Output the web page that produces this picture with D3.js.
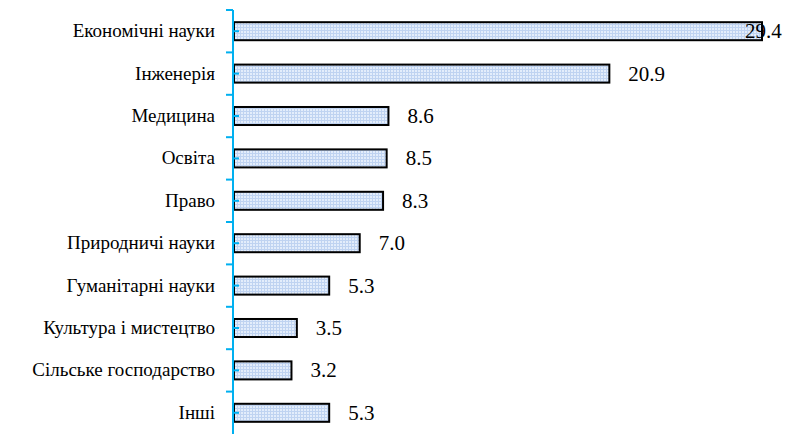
<!DOCTYPE html>
<html>
<head>
<meta charset="utf-8">
<script src="https://cdn.jsdelivr.net/npm/d3@7"></script>
<style>
  @font-face { font-family: "ChartSerif"; src: local("Liberation Serif"), local("LiberationSerif"), local("Liberation Serif Regular"), local("LiberationSerif-Regular"); }
</style>
</head>
<body style="margin:0">
<div id="chart"></div>
<script>
const categories = ["Економічні науки", "Інженерія", "Медицина", "Освіта", "Право",
  "Природничі науки", "Гуманітарні науки", "Культура і мистецтво", "Сільське господарство", "Інші"];
const values = [29.4, 20.9, 8.6, 8.5, 8.3, 7.0, 5.3, 3.5, 3.2, 5.3];
const labels = ["29.4", "20.9", "8.6", "8.5", "8.3", "7.0", "5.3", "3.5", "3.2", "5.3"];

const FONT = "\"Liberation Serif\", \"Times New Roman\", ChartSerif";
const W = 790, H = 434;
const margin = {top: 10, right: 28, bottom: 0, left: 234};
const height = H - margin.top - margin.bottom;

const svg = d3.select("#chart").append("svg")
  .attr("width", W)
  .attr("height", H);

const x = d3.scaleLinear().domain([0, 29.4]).range([margin.left, margin.left + 528]);
const y = d3.scaleBand().domain(categories).range([margin.top, margin.top + height])
  .paddingInner(0.575).paddingOuter(0.2875);
const x0 = x(0);

// category names
svg.selectAll("text.cat")
  .data(categories)
  .join("text")
  .attr("class", "cat")
  .attr("x", x0 - 19)
  .attr("y", d => y(d) + y.bandwidth() / 2 + 6)
  .attr("text-anchor", "end")
  .attr("font-size", 19)
  .style("font-family", FONT)
  .text(d => d);

const defs = svg.append("defs");
const pat = defs.append("pattern")
  .attr("id", "grid")
  .attr("patternUnits", "userSpaceOnUse")
  .attr("width", 3).attr("height", 3);
pat.append("rect").attr("width", 3).attr("height", 3).attr("fill", "#e3edfb");
pat.append("path").attr("d", "M0,0.5H3M0.5,0V3")
  .attr("stroke", "#bfd3f1").attr("stroke-width", 1);

// bars
svg.selectAll("rect.bar")
  .data(values)
  .join("rect")
  .attr("class", "bar")
  .attr("x", x0)
  .attr("y", (d, i) => y(categories[i]))
  .attr("width", d => x(d) - x0)
  .attr("height", y.bandwidth())
  .attr("fill", "url(#grid)")
  .attr("stroke", "#000")
  .attr("stroke-width", 2);

// value labels (the longest one is pushed back inside, like the original)
svg.selectAll("text.val")
  .data(values)
  .join("text")
  .attr("class", "val")
  .attr("x", d => Math.min(x(d) + 19, 745))
  .attr("y", (d, i) => y(categories[i]) + y.bandwidth() / 2 + 7)
  .attr("font-size", 21)
  .style("font-family", FONT)
  .text((d, i) => labels[i]);

// axis
const step = y.step();
svg.append("line")
  .attr("x1", x0 - 1).attr("x2", x0 - 1)
  .attr("y1", margin.top).attr("y2", margin.top + height)
  .attr("stroke", "#00b0f0").attr("stroke-width", 2);
svg.selectAll("line.major")
  .data(d3.range(categories.length))
  .join("line")
  .attr("class", "major")
  .attr("x1", x0 - 8).attr("x2", x0 - 1)
  .attr("y1", i => margin.top + i * step).attr("y2", i => margin.top + i * step)
  .attr("stroke", "#00b0f0").attr("stroke-width", 2);
svg.selectAll("line.minor")
  .data(categories)
  .join("line")
  .attr("class", "minor")
  .attr("x1", x0 - 1).attr("x2", x0 + 5)
  .attr("y1", d => y(d) + y.bandwidth() / 2).attr("y2", d => y(d) + y.bandwidth() / 2)
  .attr("stroke", "#00b0f0").attr("stroke-width", 2);
</script>
</body>
</html>
